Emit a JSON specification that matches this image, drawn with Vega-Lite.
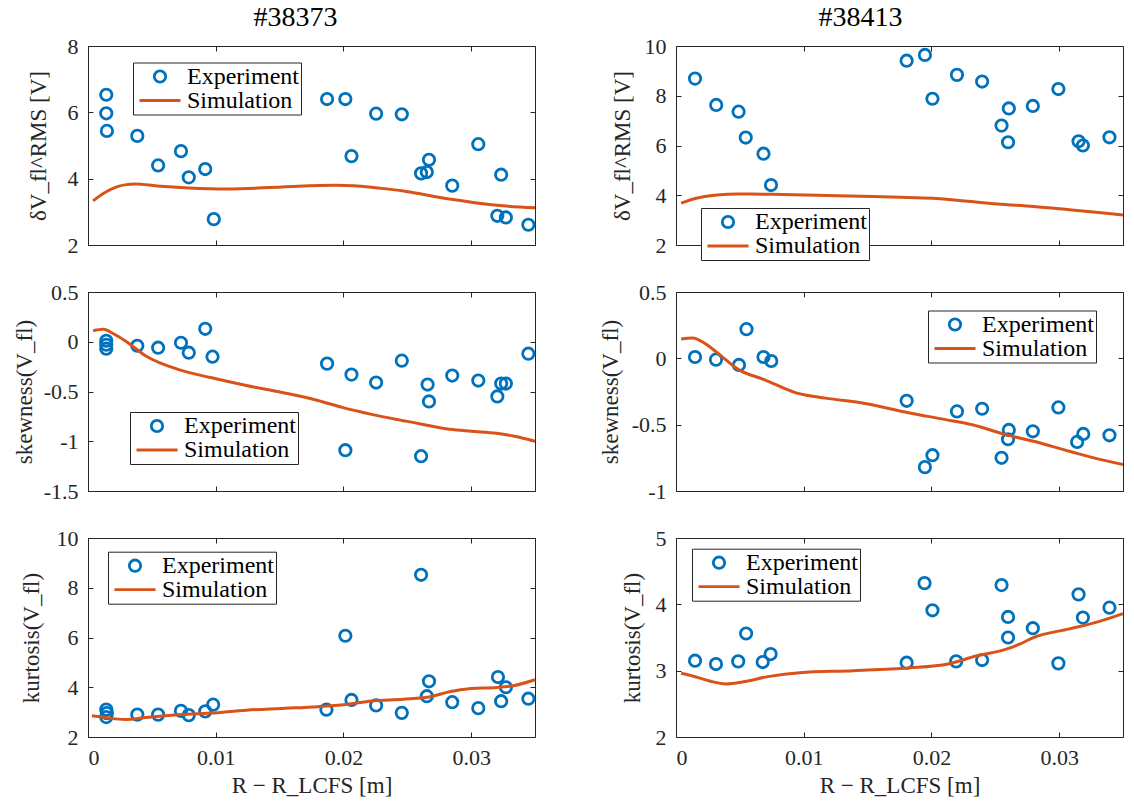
{
  "$schema": "https://vega.github.io/schema/vega-lite/v6.json",
  "background": "white",
  "padding": {"left": 12, "top": 3, "right": 5, "bottom": 3},
  "data": {"values": [
    {"panel":"TL","series":"Experiment","r":0.00143,"value":6.53},
    {"panel":"TL","series":"Experiment","r":0.00143,"value":5.97},
    {"panel":"TL","series":"Experiment","r":0.00148,"value":5.44},
    {"panel":"TL","series":"Experiment","r":0.00386,"value":5.29},
    {"panel":"TL","series":"Experiment","r":0.00549,"value":4.40},
    {"panel":"TL","series":"Experiment","r":0.00728,"value":4.83},
    {"panel":"TL","series":"Experiment","r":0.00789,"value":4.04},
    {"panel":"TL","series":"Experiment","r":0.00918,"value":4.29},
    {"panel":"TL","series":"Experiment","r":0.00985,"value":2.78},
    {"panel":"TL","series":"Experiment","r":0.01872,"value":6.40},
    {"panel":"TL","series":"Experiment","r":0.02015,"value":6.40},
    {"panel":"TL","series":"Experiment","r":0.02063,"value":4.68},
    {"panel":"TL","series":"Experiment","r":0.02256,"value":5.96},
    {"panel":"TL","series":"Experiment","r":0.02457,"value":5.94},
    {"panel":"TL","series":"Experiment","r":0.02608,"value":4.16},
    {"panel":"TL","series":"Experiment","r":0.02653,"value":4.20},
    {"panel":"TL","series":"Experiment","r":0.0267,"value":4.57},
    {"panel":"TL","series":"Experiment","r":0.02852,"value":3.79},
    {"panel":"TL","series":"Experiment","r":0.03056,"value":5.04},
    {"panel":"TL","series":"Experiment","r":0.03235,"value":4.12},
    {"panel":"TL","series":"Experiment","r":0.03205,"value":2.88},
    {"panel":"TL","series":"Experiment","r":0.03272,"value":2.83},
    {"panel":"TL","series":"Experiment","r":0.03448,"value":2.61},
    {"panel":"TL","series":"Simulation","r":0.0004,"value":3.33},
    {"panel":"TL","series":"Simulation","r":0.0012,"value":3.55},
    {"panel":"TL","series":"Simulation","r":0.0023,"value":3.76},
    {"panel":"TL","series":"Simulation","r":0.003,"value":3.82},
    {"panel":"TL","series":"Simulation","r":0.0037,"value":3.84},
    {"panel":"TL","series":"Simulation","r":0.0054,"value":3.78},
    {"panel":"TL","series":"Simulation","r":0.0079,"value":3.72},
    {"panel":"TL","series":"Simulation","r":0.011,"value":3.69},
    {"panel":"TL","series":"Simulation","r":0.0152,"value":3.75},
    {"panel":"TL","series":"Simulation","r":0.0194,"value":3.80},
    {"panel":"TL","series":"Simulation","r":0.0208,"value":3.79},
    {"panel":"TL","series":"Simulation","r":0.0227,"value":3.72},
    {"panel":"TL","series":"Simulation","r":0.0247,"value":3.63},
    {"panel":"TL","series":"Simulation","r":0.0266,"value":3.50},
    {"panel":"TL","series":"Simulation","r":0.0286,"value":3.37},
    {"panel":"TL","series":"Simulation","r":0.0306,"value":3.26},
    {"panel":"TL","series":"Simulation","r":0.0325,"value":3.18},
    {"panel":"TL","series":"Simulation","r":0.035,"value":3.12},

    {"panel":"ML","series":"Experiment","r":0.00143,"value":0.01},
    {"panel":"ML","series":"Experiment","r":0.00143,"value":-0.03},
    {"panel":"ML","series":"Experiment","r":0.00143,"value":-0.07},
    {"panel":"ML","series":"Experiment","r":0.00386,"value":-0.04},
    {"panel":"ML","series":"Experiment","r":0.00549,"value":-0.06},
    {"panel":"ML","series":"Experiment","r":0.00728,"value":-0.01},
    {"panel":"ML","series":"Experiment","r":0.00789,"value":-0.11},
    {"panel":"ML","series":"Experiment","r":0.00918,"value":0.13},
    {"panel":"ML","series":"Experiment","r":0.00975,"value":-0.15},
    {"panel":"ML","series":"Experiment","r":0.01872,"value":-0.22},
    {"panel":"ML","series":"Experiment","r":0.02015,"value":-1.09},
    {"panel":"ML","series":"Experiment","r":0.02063,"value":-0.33},
    {"panel":"ML","series":"Experiment","r":0.02256,"value":-0.41},
    {"panel":"ML","series":"Experiment","r":0.02457,"value":-0.19},
    {"panel":"ML","series":"Experiment","r":0.02608,"value":-1.15},
    {"panel":"ML","series":"Experiment","r":0.02659,"value":-0.43},
    {"panel":"ML","series":"Experiment","r":0.0267,"value":-0.60},
    {"panel":"ML","series":"Experiment","r":0.02852,"value":-0.34},
    {"panel":"ML","series":"Experiment","r":0.03056,"value":-0.39},
    {"panel":"ML","series":"Experiment","r":0.03205,"value":-0.55},
    {"panel":"ML","series":"Experiment","r":0.03235,"value":-0.42},
    {"panel":"ML","series":"Experiment","r":0.03272,"value":-0.42},
    {"panel":"ML","series":"Experiment","r":0.03448,"value":-0.12},
    {"panel":"ML","series":"Simulation","r":0.0004,"value":0.11},
    {"panel":"ML","series":"Simulation","r":0.0012,"value":0.125},
    {"panel":"ML","series":"Simulation","r":0.002,"value":0.08},
    {"panel":"ML","series":"Simulation","r":0.0029,"value":0.01},
    {"panel":"ML","series":"Simulation","r":0.0045,"value":-0.14},
    {"panel":"ML","series":"Simulation","r":0.0071,"value":-0.28},
    {"panel":"ML","series":"Simulation","r":0.0096,"value":-0.36},
    {"panel":"ML","series":"Simulation","r":0.0124,"value":-0.44},
    {"panel":"ML","series":"Simulation","r":0.0152,"value":-0.51},
    {"panel":"ML","series":"Simulation","r":0.018,"value":-0.59},
    {"panel":"ML","series":"Simulation","r":0.0199,"value":-0.66},
    {"panel":"ML","series":"Simulation","r":0.0222,"value":-0.73},
    {"panel":"ML","series":"Simulation","r":0.025,"value":-0.80},
    {"panel":"ML","series":"Simulation","r":0.0283,"value":-0.88},
    {"panel":"ML","series":"Simulation","r":0.03,"value":-0.90},
    {"panel":"ML","series":"Simulation","r":0.032,"value":-0.92},
    {"panel":"ML","series":"Simulation","r":0.0334,"value":-0.95},
    {"panel":"ML","series":"Simulation","r":0.035,"value":-1.0},

    {"panel":"BL","series":"Experiment","r":0.00143,"value":3.10},
    {"panel":"BL","series":"Experiment","r":0.00148,"value":2.96},
    {"panel":"BL","series":"Experiment","r":0.00143,"value":2.80},
    {"panel":"BL","series":"Experiment","r":0.00386,"value":2.90},
    {"panel":"BL","series":"Experiment","r":0.00549,"value":2.90},
    {"panel":"BL","series":"Experiment","r":0.00728,"value":3.05},
    {"panel":"BL","series":"Experiment","r":0.00789,"value":2.88},
    {"panel":"BL","series":"Experiment","r":0.00918,"value":3.03},
    {"panel":"BL","series":"Experiment","r":0.0098,"value":3.30},
    {"panel":"BL","series":"Experiment","r":0.01867,"value":3.10},
    {"panel":"BL","series":"Experiment","r":0.02015,"value":6.07},
    {"panel":"BL","series":"Experiment","r":0.02063,"value":3.49},
    {"panel":"BL","series":"Experiment","r":0.02256,"value":3.27},
    {"panel":"BL","series":"Experiment","r":0.02457,"value":2.97},
    {"panel":"BL","series":"Experiment","r":0.02608,"value":8.52},
    {"panel":"BL","series":"Experiment","r":0.02653,"value":3.64},
    {"panel":"BL","series":"Experiment","r":0.0267,"value":4.24},
    {"panel":"BL","series":"Experiment","r":0.02852,"value":3.40},
    {"panel":"BL","series":"Experiment","r":0.03056,"value":3.16},
    {"panel":"BL","series":"Experiment","r":0.0321,"value":4.41},
    {"panel":"BL","series":"Experiment","r":0.03235,"value":3.44},
    {"panel":"BL","series":"Experiment","r":0.03272,"value":4.0},
    {"panel":"BL","series":"Experiment","r":0.03448,"value":3.54},
    {"panel":"BL","series":"Simulation","r":0.0003,"value":2.85},
    {"panel":"BL","series":"Simulation","r":0.0012,"value":2.80},
    {"panel":"BL","series":"Simulation","r":0.0029,"value":2.70},
    {"panel":"BL","series":"Simulation","r":0.0045,"value":2.78},
    {"panel":"BL","series":"Simulation","r":0.0068,"value":2.88},
    {"panel":"BL","series":"Simulation","r":0.0096,"value":2.96},
    {"panel":"BL","series":"Simulation","r":0.0124,"value":3.08},
    {"panel":"BL","series":"Simulation","r":0.0152,"value":3.15},
    {"panel":"BL","series":"Simulation","r":0.018,"value":3.22},
    {"panel":"BL","series":"Simulation","r":0.0202,"value":3.31},
    {"panel":"BL","series":"Simulation","r":0.0222,"value":3.45},
    {"panel":"BL","series":"Simulation","r":0.0247,"value":3.52},
    {"panel":"BL","series":"Simulation","r":0.0269,"value":3.63},
    {"panel":"BL","series":"Simulation","r":0.0283,"value":3.82},
    {"panel":"BL","series":"Simulation","r":0.03,"value":3.95},
    {"panel":"BL","series":"Simulation","r":0.032,"value":3.99},
    {"panel":"BL","series":"Simulation","r":0.0334,"value":4.07},
    {"panel":"BL","series":"Simulation","r":0.035,"value":4.30},

    {"panel":"TR","series":"Experiment","r":0.00149,"value":8.69},
    {"panel":"TR","series":"Experiment","r":0.00315,"value":7.63},
    {"panel":"TR","series":"Experiment","r":0.0049,"value":7.36},
    {"panel":"TR","series":"Experiment","r":0.00546,"value":6.32},
    {"panel":"TR","series":"Experiment","r":0.00685,"value":5.67},
    {"panel":"TR","series":"Experiment","r":0.00744,"value":4.41},
    {"panel":"TR","series":"Experiment","r":0.01806,"value":9.41},
    {"panel":"TR","series":"Experiment","r":0.01949,"value":9.64},
    {"panel":"TR","series":"Experiment","r":0.02008,"value":7.88},
    {"panel":"TR","series":"Experiment","r":0.022,"value":8.84},
    {"panel":"TR","series":"Experiment","r":0.02397,"value":8.57},
    {"panel":"TR","series":"Experiment","r":0.02549,"value":6.80},
    {"panel":"TR","series":"Experiment","r":0.02606,"value":7.49},
    {"panel":"TR","series":"Experiment","r":0.026,"value":6.13},
    {"panel":"TR","series":"Experiment","r":0.02794,"value":7.59},
    {"panel":"TR","series":"Experiment","r":0.02994,"value":8.27},
    {"panel":"TR","series":"Experiment","r":0.03152,"value":6.17},
    {"panel":"TR","series":"Experiment","r":0.03186,"value":6.0},
    {"panel":"TR","series":"Experiment","r":0.03394,"value":6.33},
    {"panel":"TR","series":"Simulation","r":0.0004,"value":3.68},
    {"panel":"TR","series":"Simulation","r":0.0015,"value":3.87},
    {"panel":"TR","series":"Simulation","r":0.0032,"value":4.01},
    {"panel":"TR","series":"Simulation","r":0.0049,"value":4.05},
    {"panel":"TR","series":"Simulation","r":0.0075,"value":4.04},
    {"panel":"TR","series":"Simulation","r":0.0111,"value":4.0},
    {"panel":"TR","series":"Simulation","r":0.0154,"value":3.95},
    {"panel":"TR","series":"Simulation","r":0.0182,"value":3.91},
    {"panel":"TR","series":"Simulation","r":0.0204,"value":3.87},
    {"panel":"TR","series":"Simulation","r":0.0224,"value":3.78},
    {"panel":"TR","series":"Simulation","r":0.0252,"value":3.65},
    {"panel":"TR","series":"Simulation","r":0.028,"value":3.55},
    {"panel":"TR","series":"Simulation","r":0.0308,"value":3.42},
    {"panel":"TR","series":"Simulation","r":0.0331,"value":3.31},
    {"panel":"TR","series":"Simulation","r":0.035,"value":3.21},

    {"panel":"MR","series":"Experiment","r":0.00149,"value":0.01},
    {"panel":"MR","series":"Experiment","r":0.00313,"value":-0.01},
    {"panel":"MR","series":"Experiment","r":0.00493,"value":-0.05},
    {"panel":"MR","series":"Experiment","r":0.00552,"value":0.22},
    {"panel":"MR","series":"Experiment","r":0.00685,"value":0.01},
    {"panel":"MR","series":"Experiment","r":0.00746,"value":-0.02},
    {"panel":"MR","series":"Experiment","r":0.01806,"value":-0.32},
    {"panel":"MR","series":"Experiment","r":0.01949,"value":-0.82},
    {"panel":"MR","series":"Experiment","r":0.02008,"value":-0.73},
    {"panel":"MR","series":"Experiment","r":0.022,"value":-0.40},
    {"panel":"MR","series":"Experiment","r":0.02397,"value":-0.38},
    {"panel":"MR","series":"Experiment","r":0.02549,"value":-0.75},
    {"panel":"MR","series":"Experiment","r":0.02606,"value":-0.54},
    {"panel":"MR","series":"Experiment","r":0.026,"value":-0.61},
    {"panel":"MR","series":"Experiment","r":0.02794,"value":-0.55},
    {"panel":"MR","series":"Experiment","r":0.02994,"value":-0.37},
    {"panel":"MR","series":"Experiment","r":0.03141,"value":-0.63},
    {"panel":"MR","series":"Experiment","r":0.03189,"value":-0.57},
    {"panel":"MR","series":"Experiment","r":0.03394,"value":-0.58},
    {"panel":"MR","series":"Simulation","r":0.0004,"value":0.146},
    {"panel":"MR","series":"Simulation","r":0.0013,"value":0.153},
    {"panel":"MR","series":"Simulation","r":0.0023,"value":0.11},
    {"panel":"MR","series":"Simulation","r":0.0032,"value":0.045},
    {"panel":"MR","series":"Simulation","r":0.0049,"value":-0.085},
    {"panel":"MR","series":"Simulation","r":0.0069,"value":-0.16},
    {"panel":"MR","series":"Simulation","r":0.0094,"value":-0.26},
    {"panel":"MR","series":"Simulation","r":0.0117,"value":-0.30},
    {"panel":"MR","series":"Simulation","r":0.0148,"value":-0.34},
    {"panel":"MR","series":"Simulation","r":0.0182,"value":-0.41},
    {"panel":"MR","series":"Simulation","r":0.021,"value":-0.46},
    {"panel":"MR","series":"Simulation","r":0.0232,"value":-0.50},
    {"panel":"MR","series":"Simulation","r":0.0258,"value":-0.575},
    {"panel":"MR","series":"Simulation","r":0.028,"value":-0.625},
    {"panel":"MR","series":"Simulation","r":0.0308,"value":-0.70},
    {"panel":"MR","series":"Simulation","r":0.0331,"value":-0.76},
    {"panel":"MR","series":"Simulation","r":0.035,"value":-0.80},

    {"panel":"BR","series":"Experiment","r":0.00149,"value":3.15},
    {"panel":"BR","series":"Experiment","r":0.00313,"value":3.10},
    {"panel":"BR","series":"Experiment","r":0.00487,"value":3.14},
    {"panel":"BR","series":"Experiment","r":0.00549,"value":3.56},
    {"panel":"BR","series":"Experiment","r":0.00679,"value":3.13},
    {"panel":"BR","series":"Experiment","r":0.00741,"value":3.25},
    {"panel":"BR","series":"Experiment","r":0.01806,"value":3.12},
    {"panel":"BR","series":"Experiment","r":0.01946,"value":4.32},
    {"panel":"BR","series":"Experiment","r":0.02008,"value":3.91},
    {"panel":"BR","series":"Experiment","r":0.02194,"value":3.14},
    {"panel":"BR","series":"Experiment","r":0.02397,"value":3.16},
    {"panel":"BR","series":"Experiment","r":0.02549,"value":4.29},
    {"panel":"BR","series":"Experiment","r":0.026,"value":3.81},
    {"panel":"BR","series":"Experiment","r":0.026,"value":3.50},
    {"panel":"BR","series":"Experiment","r":0.02794,"value":3.64},
    {"panel":"BR","series":"Experiment","r":0.02994,"value":3.11},
    {"panel":"BR","series":"Experiment","r":0.03152,"value":4.15},
    {"panel":"BR","series":"Experiment","r":0.03186,"value":3.80},
    {"panel":"BR","series":"Experiment","r":0.03394,"value":3.95},
    {"panel":"BR","series":"Simulation","r":0.0004,"value":2.96},
    {"panel":"BR","series":"Simulation","r":0.0013,"value":2.92},
    {"panel":"BR","series":"Simulation","r":0.0027,"value":2.84},
    {"panel":"BR","series":"Simulation","r":0.0039,"value":2.80},
    {"panel":"BR","series":"Simulation","r":0.0052,"value":2.83},
    {"panel":"BR","series":"Simulation","r":0.0072,"value":2.91},
    {"panel":"BR","series":"Simulation","r":0.0097,"value":2.97},
    {"panel":"BR","series":"Simulation","r":0.0139,"value":3.0},
    {"panel":"BR","series":"Simulation","r":0.0182,"value":3.04},
    {"panel":"BR","series":"Simulation","r":0.0213,"value":3.10},
    {"panel":"BR","series":"Simulation","r":0.0235,"value":3.22},
    {"panel":"BR","series":"Simulation","r":0.0258,"value":3.32},
    {"panel":"BR","series":"Simulation","r":0.0269,"value":3.40},
    {"panel":"BR","series":"Simulation","r":0.028,"value":3.50},
    {"panel":"BR","series":"Simulation","r":0.0308,"value":3.63},
    {"panel":"BR","series":"Simulation","r":0.0331,"value":3.74},
    {"panel":"BR","series":"Simulation","r":0.035,"value":3.86}
  ]},
  "config": {
    "view": {"stroke": "#262626", "strokeWidth": 1},
    "axis": {"domain": false, "grid": false, "tickSize": -5, "tickColor": "#262626", "tickWidth": 1,
             "labelFont": "Liberation Serif", "labelFontSize": 22, "labelColor": "#262626", "labelPadding": 15,
             "titleFont": "Liberation Serif", "titleFontSize": 23, "titleFontWeight": "normal", "titleColor": "#262626"},
    "legend": {"orient": "none", "fillColor": "white", "strokeColor": "#262626", "padding": 2,
               "labelFont": "Liberation Serif", "labelFontSize": 24, "labelColor": "#000000", "labelLimit": 0,
               "symbolSize": 130, "symbolStrokeWidth": 2.8, "symbolOffset": 13, "labelOffset": 15, "rowPadding": 0, "cornerRadius": 0},
    "title": {"font": "Liberation Serif", "fontSize": 28, "fontWeight": "normal", "color": "#000000", "offset": 3.5, "anchor": "middle"}
  },
  "columns": 2,
  "spacing": {"row": 47, "column": 141},
  "bounds": "flush",
  "resolve": {"scale": {"x": "independent", "y": "independent", "color": "independent", "shape": "independent"}, "axis": {"x": "independent", "y": "independent"}, "legend": {"color": "independent", "shape": "independent"}},
  "concat": [
    {
      "width": 447, "height": 199,
      "title": {"text": "#38373", "dx": -16},
      "transform": [{"filter": "datum.panel === 'TL'"}],
      "encoding": {
        "color": {"field": "series", "type": "nominal", "scale": {"domain": ["Experiment", "Simulation"], "range": ["#0072BD", "#D95319"]},
          "legend": {"title": null, "legendX": 45, "legendY": 16.5}}},
      "layer": [
        {"transform": [{"filter": "datum.series === 'Experiment'"}],
         "mark": {"type": "point", "filled": false, "size": 130, "strokeWidth": 2.8, "opacity": 1},
         "encoding": {
           "shape": {"field": "series", "type": "nominal", "scale": {"domain": ["Experiment", "Simulation"], "range": ["circle", "M-3.6,0H3.6"]},
             "legend": {"title": null, "legendX": 45, "legendY": 16.5}},
           "x": {"field": "r", "type": "quantitative", "scale": {"domain": [0, 0.035], "nice": false, "zero": false},
                 "axis": {"orient": "bottom", "values": [0, 0.01, 0.02, 0.03], "labels": false, "title": null}},
           "y": {"field": "value", "type": "quantitative", "scale": {"domain": [2, 8], "nice": false, "zero": false},
                 "axis": {"orient": "left", "values": [2, 4, 6, 8], "labelExpr": "toString(datum.value)", "title": "δV_fl^RMS [V]", "titlePadding": 17}}}},
        {"transform": [{"filter": "datum.series === 'Simulation'"}],
         "mark": {"type": "line", "strokeWidth": 3, "interpolate": "monotone"},
         "encoding": {
           "x": {"field": "r", "type": "quantitative", "scale": {"domain": [0, 0.035], "nice": false, "zero": false},
                 "axis": {"orient": "top", "values": [0, 0.01, 0.02, 0.03], "labels": false, "title": null}},
           "y": {"field": "value", "type": "quantitative", "scale": {"domain": [2, 8], "nice": false, "zero": false},
                 "axis": {"orient": "right", "values": [2, 4, 6, 8], "labels": false, "title": null}}}}
      ],
      "resolve": {"axis": {"x": "independent", "y": "independent"}}
    },
    {
      "width": 447, "height": 199,
      "title": {"text": "#38413", "dx": -39},
      "transform": [{"filter": "datum.panel === 'TR'"}],
      "encoding": {
        "color": {"field": "series", "type": "nominal", "scale": {"domain": ["Experiment", "Simulation"], "range": ["#0072BD", "#D95319"]},
          "legend": {"title": null, "legendX": 25, "legendY": 162}}},
      "layer": [
        {"transform": [{"filter": "datum.series === 'Experiment'"}],
         "mark": {"type": "point", "filled": false, "size": 130, "strokeWidth": 2.8, "opacity": 1},
         "encoding": {
           "shape": {"field": "series", "type": "nominal", "scale": {"domain": ["Experiment", "Simulation"], "range": ["circle", "M-3.6,0H3.6"]},
             "legend": {"title": null, "legendX": 25, "legendY": 162}},
           "x": {"field": "r", "type": "quantitative", "scale": {"domain": [0, 0.035], "nice": false, "zero": false},
                 "axis": {"orient": "bottom", "values": [0, 0.01, 0.02, 0.03], "labels": false, "title": null}},
           "y": {"field": "value", "type": "quantitative", "scale": {"domain": [2, 10], "nice": false, "zero": false},
                 "axis": {"orient": "left", "values": [2, 4, 6, 8, 10], "labelExpr": "toString(datum.value)", "title": "δV_fl^RMS [V]", "titlePadding": 10}}}},
        {"transform": [{"filter": "datum.series === 'Simulation'"}],
         "mark": {"type": "line", "strokeWidth": 3, "interpolate": "monotone"},
         "encoding": {
           "x": {"field": "r", "type": "quantitative", "scale": {"domain": [0, 0.035], "nice": false, "zero": false},
                 "axis": {"orient": "top", "values": [0, 0.01, 0.02, 0.03], "labels": false, "title": null}},
           "y": {"field": "value", "type": "quantitative", "scale": {"domain": [2, 10], "nice": false, "zero": false},
                 "axis": {"orient": "right", "values": [2, 4, 6, 8, 10], "labels": false, "title": null}}}}
      ],
      "resolve": {"axis": {"x": "independent", "y": "independent"}}
    },
    {
      "width": 447, "height": 199,
      "transform": [{"filter": "datum.panel === 'ML'"}],
      "encoding": {
        "color": {"field": "series", "type": "nominal", "scale": {"domain": ["Experiment", "Simulation"], "range": ["#0072BD", "#D95319"]},
          "legend": {"title": null, "legendX": 42, "legendY": 120}}},
      "layer": [
        {"transform": [{"filter": "datum.series === 'Experiment'"}],
         "mark": {"type": "point", "filled": false, "size": 130, "strokeWidth": 2.8, "opacity": 1},
         "encoding": {
           "shape": {"field": "series", "type": "nominal", "scale": {"domain": ["Experiment", "Simulation"], "range": ["circle", "M-3.6,0H3.6"]},
             "legend": {"title": null, "legendX": 42, "legendY": 120}},
           "x": {"field": "r", "type": "quantitative", "scale": {"domain": [0, 0.035], "nice": false, "zero": false},
                 "axis": {"orient": "bottom", "values": [0, 0.01, 0.02, 0.03], "labels": false, "title": null}},
           "y": {"field": "value", "type": "quantitative", "scale": {"domain": [-1.5, 0.5], "nice": false, "zero": false},
                 "axis": {"orient": "left", "values": [-1.5, -1, -0.5, 0, 0.5], "labelExpr": "toString(datum.value)", "title": "skewness(V_fl)", "titlePadding": 7}}}},
        {"transform": [{"filter": "datum.series === 'Simulation'"}],
         "mark": {"type": "line", "strokeWidth": 3, "interpolate": "monotone"},
         "encoding": {
           "x": {"field": "r", "type": "quantitative", "scale": {"domain": [0, 0.035], "nice": false, "zero": false},
                 "axis": {"orient": "top", "values": [0, 0.01, 0.02, 0.03], "labels": false, "title": null}},
           "y": {"field": "value", "type": "quantitative", "scale": {"domain": [-1.5, 0.5], "nice": false, "zero": false},
                 "axis": {"orient": "right", "values": [-1.5, -1, -0.5, 0, 0.5], "labels": false, "title": null}}}}
      ],
      "resolve": {"axis": {"x": "independent", "y": "independent"}}
    },
    {
      "width": 447, "height": 199,
      "transform": [{"filter": "datum.panel === 'MR'"}],
      "encoding": {
        "color": {"field": "series", "type": "nominal", "scale": {"domain": ["Experiment", "Simulation"], "range": ["#0072BD", "#D95319"]},
          "legend": {"title": null, "legendX": 252, "legendY": 18.5}}},
      "layer": [
        {"transform": [{"filter": "datum.series === 'Experiment'"}],
         "mark": {"type": "point", "filled": false, "size": 130, "strokeWidth": 2.8, "opacity": 1},
         "encoding": {
           "shape": {"field": "series", "type": "nominal", "scale": {"domain": ["Experiment", "Simulation"], "range": ["circle", "M-3.6,0H3.6"]},
             "legend": {"title": null, "legendX": 252, "legendY": 18.5}},
           "x": {"field": "r", "type": "quantitative", "scale": {"domain": [0, 0.035], "nice": false, "zero": false},
                 "axis": {"orient": "bottom", "values": [0, 0.01, 0.02, 0.03], "labels": false, "title": null}},
           "y": {"field": "value", "type": "quantitative", "scale": {"domain": [-1, 0.5], "nice": false, "zero": false},
                 "axis": {"orient": "left", "values": [-1, -0.5, 0, 0.5], "labelExpr": "toString(datum.value)", "title": "skewness(V_fl)", "titlePadding": 9}}}},
        {"transform": [{"filter": "datum.series === 'Simulation'"}],
         "mark": {"type": "line", "strokeWidth": 3, "interpolate": "monotone"},
         "encoding": {
           "x": {"field": "r", "type": "quantitative", "scale": {"domain": [0, 0.035], "nice": false, "zero": false},
                 "axis": {"orient": "top", "values": [0, 0.01, 0.02, 0.03], "labels": false, "title": null}},
           "y": {"field": "value", "type": "quantitative", "scale": {"domain": [-1, 0.5], "nice": false, "zero": false},
                 "axis": {"orient": "right", "values": [-1, -0.5, 0, 0.5], "labels": false, "title": null}}}}
      ],
      "resolve": {"axis": {"x": "independent", "y": "independent"}}
    },
    {
      "width": 447, "height": 199,
      "transform": [{"filter": "datum.panel === 'BL'"}],
      "encoding": {
        "color": {"field": "series", "type": "nominal", "scale": {"domain": ["Experiment", "Simulation"], "range": ["#0072BD", "#D95319"]},
          "legend": {"title": null, "legendX": 20, "legendY": 13.7}}},
      "layer": [
        {"transform": [{"filter": "datum.series === 'Experiment'"}],
         "mark": {"type": "point", "filled": false, "size": 130, "strokeWidth": 2.8, "opacity": 1},
         "encoding": {
           "shape": {"field": "series", "type": "nominal", "scale": {"domain": ["Experiment", "Simulation"], "range": ["circle", "M-3.6,0H3.6"]},
             "legend": {"title": null, "legendX": 20, "legendY": 13.7}},
           "x": {"field": "r", "type": "quantitative", "scale": {"domain": [0, 0.035], "nice": false, "zero": false},
                 "axis": {"orient": "bottom", "values": [0, 0.01, 0.02, 0.03], "labelExpr": "toString(datum.value)", "title": "R − R_LCFS [m]", "titlePadding": 6}},
           "y": {"field": "value", "type": "quantitative", "scale": {"domain": [2, 10], "nice": false, "zero": false},
                 "axis": {"orient": "left", "values": [2, 4, 6, 8, 10], "labelExpr": "toString(datum.value)", "title": "kurtosis(V_fl)", "titlePadding": 13}}}},
        {"transform": [{"filter": "datum.series === 'Simulation'"}],
         "mark": {"type": "line", "strokeWidth": 3, "interpolate": "monotone"},
         "encoding": {
           "x": {"field": "r", "type": "quantitative", "scale": {"domain": [0, 0.035], "nice": false, "zero": false},
                 "axis": {"orient": "top", "values": [0, 0.01, 0.02, 0.03], "labels": false, "title": null}},
           "y": {"field": "value", "type": "quantitative", "scale": {"domain": [2, 10], "nice": false, "zero": false},
                 "axis": {"orient": "right", "values": [2, 4, 6, 8, 10], "labels": false, "title": null}}}}
      ],
      "resolve": {"axis": {"x": "independent", "y": "independent"}}
    },
    {
      "width": 447, "height": 199,
      "transform": [{"filter": "datum.panel === 'BR'"}],
      "encoding": {
        "color": {"field": "series", "type": "nominal", "scale": {"domain": ["Experiment", "Simulation"], "range": ["#0072BD", "#D95319"]},
          "legend": {"title": null, "legendX": 16, "legendY": 10.7}}},
      "layer": [
        {"transform": [{"filter": "datum.series === 'Experiment'"}],
         "mark": {"type": "point", "filled": false, "size": 130, "strokeWidth": 2.8, "opacity": 1},
         "encoding": {
           "shape": {"field": "series", "type": "nominal", "scale": {"domain": ["Experiment", "Simulation"], "range": ["circle", "M-3.6,0H3.6"]},
             "legend": {"title": null, "legendX": 16, "legendY": 10.7}},
           "x": {"field": "r", "type": "quantitative", "scale": {"domain": [0, 0.035], "nice": false, "zero": false},
                 "axis": {"orient": "bottom", "values": [0, 0.01, 0.02, 0.03], "labelExpr": "toString(datum.value)", "title": "R − R_LCFS [m]", "titlePadding": 6}},
           "y": {"field": "value", "type": "quantitative", "scale": {"domain": [2, 5], "nice": false, "zero": false},
                 "axis": {"orient": "left", "values": [2, 3, 4, 5], "labelExpr": "toString(datum.value)", "title": "kurtosis(V_fl)", "titlePadding": 11}}}},
        {"transform": [{"filter": "datum.series === 'Simulation'"}],
         "mark": {"type": "line", "strokeWidth": 3, "interpolate": "monotone"},
         "encoding": {
           "x": {"field": "r", "type": "quantitative", "scale": {"domain": [0, 0.035], "nice": false, "zero": false},
                 "axis": {"orient": "top", "values": [0, 0.01, 0.02, 0.03], "labels": false, "title": null}},
           "y": {"field": "value", "type": "quantitative", "scale": {"domain": [2, 5], "nice": false, "zero": false},
                 "axis": {"orient": "right", "values": [2, 3, 4, 5], "labels": false, "title": null}}}}
      ],
      "resolve": {"axis": {"x": "independent", "y": "independent"}}
    }
  ]
}
